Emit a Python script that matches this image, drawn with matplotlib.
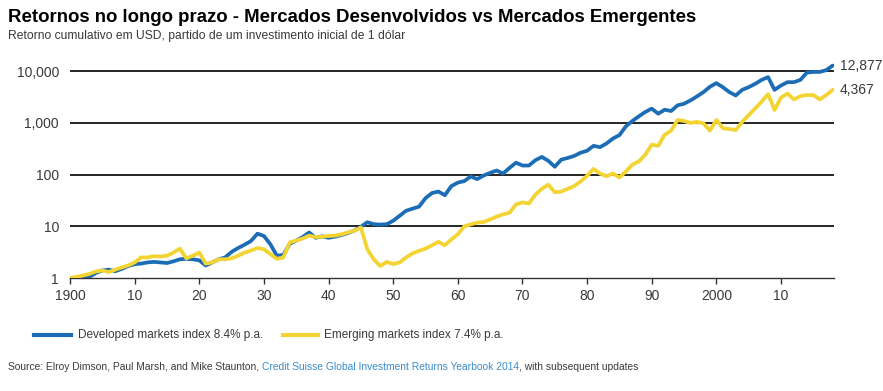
import matplotlib
matplotlib.use("Agg")
import matplotlib.pyplot as plt
from matplotlib.ticker import FixedLocator, NullLocator

years = list(range(1900, 2019))

developed = [
    1.0, 0.97, 0.95, 1.05, 1.25, 1.4, 1.45, 1.35, 1.5, 1.7,
    1.85, 1.9, 2.0, 2.05, 2.0, 1.95, 2.1, 2.3, 2.35, 2.3,
    2.2, 1.75, 2.0, 2.3, 2.5, 3.2, 3.8, 4.4, 5.2, 7.2,
    6.5, 4.5, 2.7, 2.8, 4.6, 5.3, 6.2, 7.6, 6.0, 6.4,
    6.0, 6.3, 6.8, 7.4, 8.3, 9.8, 12.0, 11.0, 10.8, 11.0,
    12.8, 16, 20, 22, 24, 35, 44, 47, 40, 60,
    70, 75, 92, 82, 96, 108, 120, 105, 135, 170,
    150, 150, 190, 220, 185, 142, 195, 210, 230, 265,
    290, 360, 340, 400, 500, 580, 860, 1090, 1340, 1630,
    1890, 1510, 1800, 1700, 2190, 2350, 2730, 3260, 3950, 5000,
    5880, 4920, 3950, 3400, 4370, 4920, 5700, 6800, 7700, 4370,
    5300, 6150, 6150, 6800, 9400, 9700, 9700, 10500, 12877,
]

emerging = [
    1.0, 1.05, 1.12, 1.2, 1.34, 1.4, 1.3, 1.45, 1.6, 1.75,
    2.0, 2.5, 2.5, 2.65, 2.6, 2.7, 3.1, 3.7, 2.4, 2.7,
    3.1, 1.9, 2.0, 2.3, 2.3, 2.4, 2.7, 3.1, 3.4, 3.8,
    3.6, 2.9, 2.35, 2.5, 4.9, 5.3, 5.8, 6.6, 6.2, 6.3,
    6.5, 6.6, 7.0, 7.6, 8.2, 9.5, 3.6, 2.3, 1.7, 2.05,
    1.86, 2.0, 2.5, 3.0, 3.35, 3.7, 4.3, 5.0, 4.3, 5.6,
    7.0, 10, 10.9, 11.8, 12.1, 13.6, 15.4, 17, 18.3, 26.5,
    29, 27.6, 41, 53, 64, 45.7, 47, 53, 60, 74,
    95, 129, 105, 93, 105, 88, 115, 156, 180, 243,
    380, 360, 590, 710, 1140, 1090, 1000, 1050, 980, 710,
    1140, 790, 760, 730, 1050, 1420, 1900, 2570, 3600, 1780,
    3100, 3700, 2850, 3300, 3460, 3460, 2850, 3460, 4367,
]

ytick_vals = [1, 10, 100, 1000, 10000]
ytick_labels = ["1", "10", "100", "1,000", "10,000"]
xtick_vals = [1900, 1910, 1920, 1930, 1940, 1950, 1960, 1970, 1980, 1990, 2000, 2010]
xtick_labels = ["1900", "10", "20", "30", "40", "50", "60", "70", "80", "90", "2000", "10"]

title = "Retornos no longo prazo - Mercados Desenvolvidos vs Mercados Emergentes"
subtitle = "Retorno cumulativo em USD, partido de um investimento inicial de 1 dólar"
legend_dev = "Developed markets index 8.4% p.a."
legend_em = "Emerging markets index 7.4% p.a."
end_dev = "12,877"
end_em = "4,367"

BLUE = "#1c6db6"
YELLOW = "#f3d432"
TXT = "#3a3a3a"

plt.rcParams['font.family'] = ['Liberation Sans', 'DejaVu Sans']

fig = plt.figure(figsize=(8.83, 3.91), dpi=100)
ax = fig.add_axes([70/883, 1-278/391, (834-70)/883, (278-60)/391])

ax.set_yscale('log')
ax.set_ylim(1, 16500)
ax.set_xlim(1900, 2018.2)

for v in ytick_vals[1:]:
    ax.axhline(v, color='black', lw=1.2, zorder=1)

ax.plot(years, developed, color=BLUE, lw=2.7, zorder=2, solid_joinstyle='round', solid_capstyle='round')
ax.plot(years, emerging, color=YELLOW, lw=2.7, zorder=3, solid_joinstyle='round', solid_capstyle='round')

ax.yaxis.set_major_locator(FixedLocator(ytick_vals))
ax.set_yticklabels(ytick_labels)
ax.yaxis.set_minor_locator(NullLocator())
ax.tick_params(axis='y', length=0, pad=8, labelsize=10, labelcolor=TXT)
ax.set_xticks(xtick_vals)
ax.set_xticklabels(xtick_labels)
ax.tick_params(axis='x', direction='out', length=4, width=1, color='#333333', pad=4, labelsize=10, labelcolor=TXT)

for s in ['top', 'right', 'left']:
    ax.spines[s].set_visible(False)
ax.spines['bottom'].set_color('#333333')
ax.spines['bottom'].set_linewidth(1.0)

ax.annotate(end_dev, xy=(years[-1], developed[-1]), xytext=(5, 0), textcoords='offset points',
            fontsize=10, color=TXT, va='center', ha='left', annotation_clip=False)
ax.annotate(end_em, xy=(years[-1], emerging[-1]), xytext=(5, 0), textcoords='offset points',
            fontsize=10, color=TXT, va='center', ha='left', annotation_clip=False)

fig.text(8/883, 1-18/391, title, fontsize=13.4, fontweight='bold', color='black', va='center', ha='left')
fig.text(8/883, 1-36/391, subtitle, fontsize=8.75, color=TXT, va='center', ha='left')

# legend
ly = 1-335/391
fig.add_artist(plt.Line2D([34/883, 71/883], [ly, ly], color=BLUE, lw=3))
fig.text(78/883, ly, legend_dev, fontsize=8.5, color=TXT, va='center', ha='left')
fig.add_artist(plt.Line2D([283/883, 318/883], [ly, ly], color=YELLOW, lw=3))
fig.text(324/883, ly, legend_em, fontsize=8.5, color=TXT, va='center', ha='left')

# source line
sy = 1-367/391
t1 = fig.text(8/883, sy, "Source: Elroy Dimson, Paul Marsh, and Mike Staunton, ", fontsize=7.35, color=TXT, va='center', ha='left')
fig.canvas.draw()
r = fig.canvas.get_renderer()
bb = t1.get_window_extent(r)
t2 = fig.text(bb.x1/fig.bbox.width, sy, "Credit Suisse Global Investment Returns Yearbook 2014", fontsize=7.35, color='#3b8ccb', va='center', ha='left')
bb2 = t2.get_window_extent(r)
fig.text(bb2.x1/fig.bbox.width, sy, ", with subsequent updates", fontsize=7.35, color=TXT, va='center', ha='left')

fig.savefig("out.png", dpi=100)
